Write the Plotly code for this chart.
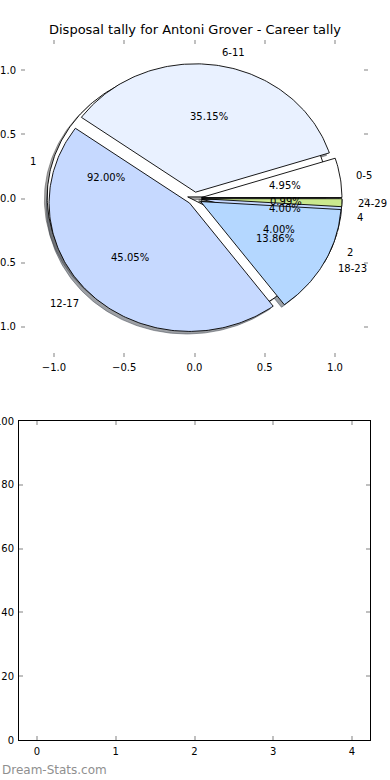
import numpy as np
import plotly.graph_objects as go

TITLE = "Disposal tally for Antoni Grover - Career tally"
WATERMARK = "Dream-Stats.com"

# Career tally pie (disposal ranges)
career_labels = ["0-5", "6-11", "12-17", "18-23", "24-29"]
career_counts = [10, 71, 91, 28, 2]
career_colors = ["#FFFFFF", "#E9F1FF", "#C6D9FF", "#B4D7FF", "#CBE88E"]

# Second (underlying) pie
second_labels = ["1", "2", "4"]
second_counts = [23, 1, 1]
second_colors = ["#FFFFFF", "#E9F1FF", "#C6D9FF"]

explode = 0.05
pie_ticks = [-1.0, -0.5, 0.0, 0.5, 1.0]
bottom_xticks = [0, 1, 2, 3, 4]
bottom_yticks = [0, 20, 40, 60, 80, 100]

W, H = 390, 780
FONT = "DejaVu Sans"


def fmt(v):
    s = f"{v:.1f}"
    return s.replace("-", "\u2212")


def wedge_geoms(values):
    vals = np.asarray(values, dtype=float)
    fr = vals / vals.sum()
    out = []
    t1 = 0.0
    for f in fr:
        t2 = t1 + 360.0 * f
        mid = np.deg2rad((t1 + t2) / 2)
        cx, cy = explode * np.cos(mid), explode * np.sin(mid)
        n = max(3, int(abs(t2 - t1)) + 2)
        th = np.deg2rad(np.linspace(t1, t2, n))
        xs = np.concatenate([[cx], cx + np.cos(th), [cx]])
        ys = np.concatenate([[cy], cy + np.sin(th), [cy]])
        out.append(dict(xs=xs, ys=ys, mid=mid, cx=cx, cy=cy, frac=f))
        t1 = t2
    return out


def shade(hexcol):
    h = hexcol.lstrip("#")
    r, g, b = (int(h[i:i + 2], 16) for i in (0, 2, 4))
    return f"rgba({int(0.3*r)},{int(0.3*g)},{int(0.3*b)},0.5)"


fig = go.Figure()
pies = [(second_labels, second_counts, second_colors),
        (career_labels, career_counts, career_colors)]
geoms = [wedge_geoms(p[1]) for p in pies]

# shadows
for (labels, counts, colors), gs in zip(pies, geoms):
    for g, c in zip(gs, colors):
        fig.add_trace(go.Scatter(x=g["xs"] - 0.02, y=g["ys"] - 0.02, mode="lines",
                                 fill="toself", fillcolor=shade(c),
                                 line=dict(color=shade(c), width=1),
                                 hoverinfo="skip", showlegend=False,
                                 xaxis="x", yaxis="y"))
# wedges
for (labels, counts, colors), gs in zip(pies, geoms):
    for g, c, lab in zip(gs, colors, labels):
        fig.add_trace(go.Scatter(x=g["xs"], y=g["ys"], mode="lines",
                                 fill="toself", fillcolor=c,
                                 line=dict(color="black", width=0.9),
                                 name=lab, showlegend=False,
                                 xaxis="x", yaxis="y"))

annotations = []
for (labels, counts, colors), gs in zip(pies, geoms):
    for g, lab in zip(gs, labels):
        lx = g["cx"] + 1.1 * np.cos(g["mid"])
        ly = g["cy"] + 1.1 * np.sin(g["mid"])
        annotations.append(dict(x=lx, y=ly, xref="x", yref="y", text=lab,
                                showarrow=False, xanchor="left" if lx > 0 else "right",
                                yanchor="middle", font=dict(size=10, color="black", family=FONT)))
        px = g["cx"] + 0.6 * np.cos(g["mid"])
        py = g["cy"] + 0.6 * np.sin(g["mid"])
        annotations.append(dict(x=px, y=py, xref="x", yref="y", text=f"{100*g['frac']:.2f}%",
                                showarrow=False, xanchor="center", yanchor="middle",
                                font=dict(size=10, color="black", family=FONT)))

annotations.append(dict(x=194.5 / W, y=1 - 30 / H, xref="paper", yref="paper", text=TITLE,
                        showarrow=False, xanchor="center", yanchor="middle",
                        font=dict(size=13, color="black", family=FONT)))
annotations.append(dict(x=0, y=1 - 770 / H, xref="paper", yref="paper", text=WATERMARK,
                        showarrow=False, xanchor="left", yanchor="middle",
                        font=dict(size=12, color="#8f8f8f", family=FONT)))

# empty bottom axes
fig.add_trace(go.Scatter(x=[], y=[], xaxis="x2", yaxis="y2", showlegend=False))

tick_common = dict(ticks="inside", ticklen=4, tickwidth=1.5, tickcolor="#c0c0c0",
                   showgrid=False, zeroline=False, fixedrange=True,
                   tickfont=dict(size=10, color="black", family=FONT))

fig.update_layout(
    width=W, height=H, margin=dict(l=0, r=0, t=0, b=0),
    paper_bgcolor="white", plot_bgcolor="white", showlegend=False,
    annotations=annotations,
    xaxis=dict(domain=[21 / W, 368 / W], range=[-1.235, 1.235], anchor="y",
               tickvals=pie_ticks, ticktext=[fmt(v) for v in pie_ticks],
               showline=False, mirror="ticks", automargin=False,
               ticklabelstandoff=3, **tick_common),
    yaxis=dict(domain=[1 - 357 / H, 1 - 40 / H], range=[-1.235, 1.235], anchor="x",
               tickvals=pie_ticks, ticktext=[fmt(v) for v in pie_ticks],
               showline=False, mirror="ticks", automargin=False,
               ticklabelstandoff=4, **tick_common),
    xaxis2=dict(domain=[19 / W, 370 / W], range=[-0.229, 4.229], anchor="y2",
                tickvals=bottom_xticks, showline=True, linecolor="black", linewidth=1,
                mirror="ticks", automargin=False, ticklabelstandoff=2, **tick_common),
    yaxis2=dict(domain=[1 - 740 / H, 1 - 421 / H], range=[0, 100], anchor="x2",
                tickvals=bottom_yticks, showline=True, linecolor="black", linewidth=1,
                mirror="ticks", automargin=False, ticklabelstandoff=2, **tick_common),
)

fig.write_html("out.html", config={"displayModeBar": False},
               post_script="document.body.style.margin='0px';document.body.style.padding='0px';")
